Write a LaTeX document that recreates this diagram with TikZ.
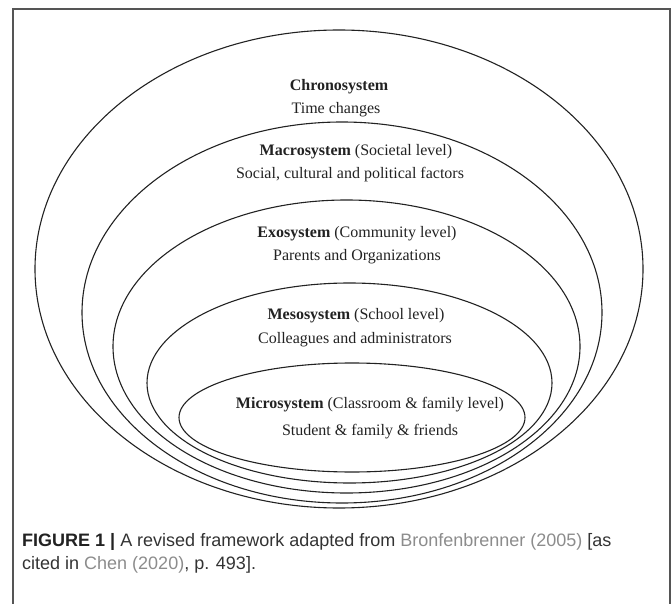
\documentclass[tikz,border=0pt]{standalone}
\usepackage{fontspec}
\setmainfont{Liberation Serif}
\newfontfamily\capfont{Liberation Sans}
\usetikzlibrary{shapes.geometric}
\definecolor{framegray}{HTML}{555555}
\definecolor{linkgray}{HTML}{8C8C8C}
\definecolor{captext}{HTML}{333333}
\definecolor{ink}{HTML}{222222}
\begin{document}
\begin{tikzpicture}[x=1pt,y=-1pt,
  sys/.style={ellipse, draw=ink, line width=1.1pt, inner sep=0pt},
  lbl/.style={font=\fontsize{16}{19}\selectfont, text=ink, inner sep=0pt, anchor=base},
]
\useasboundingbox (0,0) rectangle (672,604);
% frame
\draw[framegray, line width=1.2pt] (13,604) -- (13,9) -- (670,9) -- (670,604);
% systems
\node[sys, minimum width=608pt, minimum height=478pt] (chrono) at (339,269) {};
\node[sys, minimum width=520pt, minimum height=381pt] (macro) at (342,312.5) {};
\node[sys, minimum width=467pt, minimum height=293pt] (exo) at (346.5,346.5) {};
\node[sys, minimum width=405pt, minimum height=200pt] (meso) at (349.5,383) {};
\node[sys, minimum width=346pt, minimum height=109pt] (micro) at (352,417.5) {};
% labels
\node[lbl] (chronoT) at (339,91) {\textbf{Chronosystem}};
\node[lbl] (chronoD) at (336,114) {Time changes};
\node[lbl] (macroT) at (356,156) {\textbf{Macrosystem} (Societal level)};
\node[lbl] (macroD) at (350,179) {Social, cultural and political factors};
\node[lbl] (exoT) at (357,237) {\textbf{Exosystem} (Community level)};
\node[lbl] (exoD) at (357,261) {Parents and Organizations};
\node[lbl] (mesoT) at (356,319) {\textbf{Mesosystem} (School level)};
\node[lbl] (mesoD) at (355,343) {Colleagues and administrators};
\node[lbl] (microT) at (370,408) {\textbf{Microsystem} (Classroom \& family level)};
\node[lbl] (microD) at (370,435) {Student \& family \& friends};
% caption
\node[anchor=base west, inner sep=0pt, align=left, text=captext,
      font=\capfont\fontsize{18}{23}\selectfont] (cap) at (22,569)
  {\textcolor{ink}{\textbf{FIGURE 1 |}} A revised framework adapted from \textcolor{linkgray}{Bronfenbrenner (2005)} [as\\
   cited in \textcolor{linkgray}{Chen (2020)}, p. 493].};
\end{tikzpicture}
\end{document}
